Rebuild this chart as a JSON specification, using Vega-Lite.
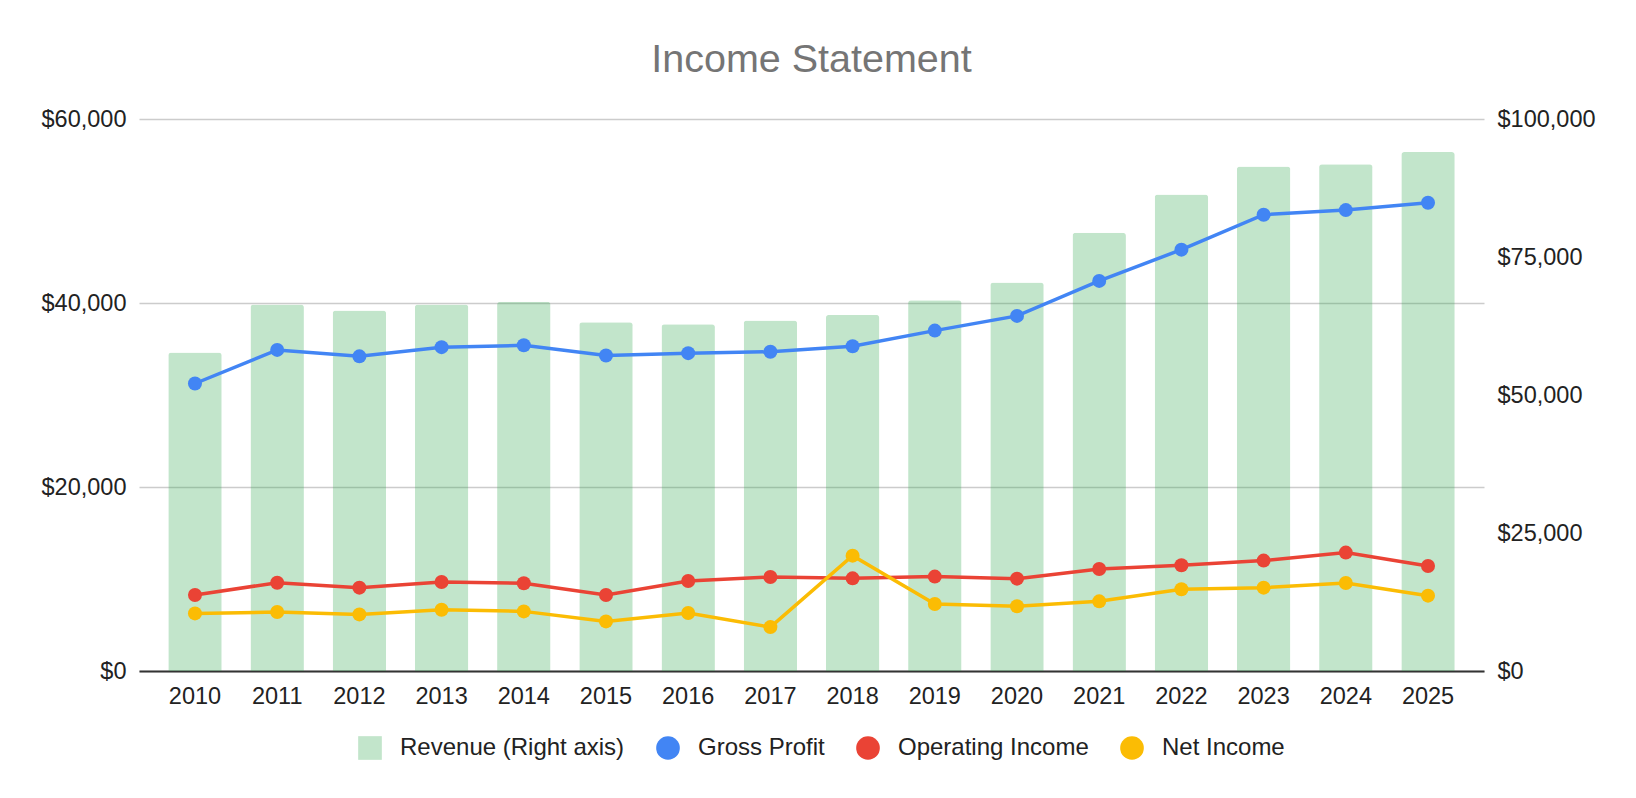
{
  "$schema": "https://vega.github.io/schema/vega-lite/v6.json",
  "width": 1345,
  "height": 552,
  "autosize": {"type": "none"},
  "padding": {"left": 139, "top": 119, "right": 152, "bottom": 127},
  "background": "white",
  "config": {
    "view": {"stroke": null},
    "font": "Liberation Sans"
  },
  "title": {
    "text": "Income Statement",
    "font": "Liberation Sans",
    "fontSize": 39.5,
    "fontWeight": "normal",
    "color": "#757575",
    "anchor": "middle",
    "baseline": "alphabetic",
    "offset": -4
  },
  "data": {
    "values": [
      {"year": "2010", "Revenue": 57700, "Gross Profit": 31250, "Operating Income": 8260, "Net Income": 6260},
      {"year": "2011", "Revenue": 66400, "Gross Profit": 34900, "Operating Income": 9600, "Net Income": 6410},
      {"year": "2012", "Revenue": 65300, "Gross Profit": 34200, "Operating Income": 9060, "Net Income": 6150},
      {"year": "2013", "Revenue": 66400, "Gross Profit": 35200, "Operating Income": 9680, "Net Income": 6660},
      {"year": "2014", "Revenue": 66900, "Gross Profit": 35400, "Operating Income": 9530, "Net Income": 6480},
      {"year": "2015", "Revenue": 63200, "Gross Profit": 34300, "Operating Income": 8260, "Net Income": 5390},
      {"year": "2016", "Revenue": 62800, "Gross Profit": 34550, "Operating Income": 9790, "Net Income": 6300},
      {"year": "2017", "Revenue": 63500, "Gross Profit": 34700, "Operating Income": 10220, "Net Income": 4770},
      {"year": "2018", "Revenue": 64500, "Gross Profit": 35300, "Operating Income": 10070, "Net Income": 12540},
      {"year": "2019", "Revenue": 67150, "Gross Profit": 37000, "Operating Income": 10260, "Net Income": 7280},
      {"year": "2020", "Revenue": 70400, "Gross Profit": 38600, "Operating Income": 10040, "Net Income": 7030},
      {"year": "2021", "Revenue": 79400, "Gross Profit": 42400, "Operating Income": 11090, "Net Income": 7570},
      {"year": "2022", "Revenue": 86300, "Gross Profit": 45800, "Operating Income": 11490, "Net Income": 8880},
      {"year": "2023", "Revenue": 91400, "Gross Profit": 49600, "Operating Income": 12000, "Net Income": 9060},
      {"year": "2024", "Revenue": 91800, "Gross Profit": 50100, "Operating Income": 12870, "Net Income": 9570},
      {"year": "2025", "Revenue": 94000, "Gross Profit": 50900, "Operating Income": 11420, "Net Income": 8190}
    ]
  },
  "encoding": {
    "x": {
      "field": "year",
      "type": "ordinal",
      "scale": {"paddingInner": 0.35, "paddingOuter": 0.356},
      "axis": {
        "title": null,
        "labelAngle": 0,
        "labelFont": "Liberation Sans",
        "labelFontSize": 23.5,
        "labelColor": "#222222",
        "labelPadding": 13,
        "ticks": false,
        "tickSize": 0,
        "domain": true,
        "domainColor": "#333333",
        "domainWidth": 2,
        "grid": false
      }
    }
  },
  "layer": [
    {
      "mark": {
        "type": "bar",
        "color": "#34a853",
        "opacity": 0.3,
        "cornerRadiusTopLeft": 3,
        "cornerRadiusTopRight": 3
      },
      "encoding": {
        "y": {
          "field": "Revenue",
          "type": "quantitative",
          "scale": {"domain": [0, 100000], "nice": false},
          "axis": {
            "orient": "right",
            "title": null,
            "values": [0, 25000, 50000, 75000, 100000],
            "format": "$,.0f",
            "labelFont": "Liberation Sans",
            "labelFontSize": 23.5,
            "labelColor": "#222222",
            "labelPadding": 13,
            "ticks": false,
            "domain": false,
            "grid": false
          }
        }
      }
    },
    {
      "transform": [
        {"fold": ["Gross Profit", "Operating Income", "Net Income"], "as": ["series", "amount"]}
      ],
      "encoding": {
        "y": {
          "field": "amount",
          "type": "quantitative",
          "scale": {"domain": [0, 60000], "nice": false},
          "axis": {
            "orient": "left",
            "title": null,
            "values": [0, 20000, 40000, 60000],
            "format": "$,.0f",
            "labelFont": "Liberation Sans",
            "labelFontSize": 23.5,
            "labelColor": "#222222",
            "labelPadding": 13,
            "ticks": false,
            "domain": false,
            "grid": true,
            "gridColor": "#cccccc",
            "gridWidth": 1.5
          }
        },
        "color": {
          "field": "series",
          "type": "nominal",
          "title": null,
          "scale": {
            "domain": ["Revenue (Right axis)", "Gross Profit", "Operating Income", "Net Income"],
            "range": ["#c2e5cb", "#4285f4", "#ea4335", "#fbbc04"]
          },
          "legend": {
            "title": null,
            "orient": "none",
            "direction": "horizontal",
            "legendX": 219,
            "legendY": 617,
            "symbolType": "circle",
            "symbolSize": 560,
            "symbolStrokeWidth": 0,
            "symbolOpacity": 1,
            "labelFont": "Liberation Sans",
            "labelFontSize": 24,
            "labelColor": "#222222",
            "labelLimit": 500,
            "labelOffset": 18,
            "columnPadding": 31,
            "encode": {
              "symbols": {
                "update": {
                  "shape": {"signal": "datum.value == 'Revenue (Right axis)' ? 'square' : 'circle'"}
                }
              }
            }
          }
        }
      },
      "layer": [
        {"mark": {"type": "line", "strokeWidth": 3.5}},
        {"mark": {"type": "point", "filled": true, "size": 196, "opacity": 1}}
      ]
    }
  ],
  "resolve": {"scale": {"y": "independent"}}
}
